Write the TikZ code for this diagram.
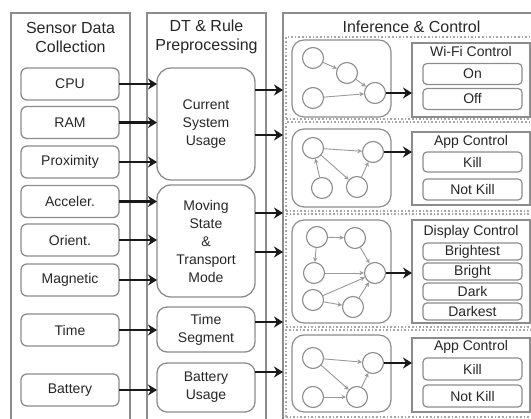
\documentclass[tikz,border=0pt]{standalone}
\usepackage{fontspec}
\setmainfont{Liberation Sans}
\usetikzlibrary{arrows.meta,positioning}

\begin{document}
\begin{tikzpicture}[x=1pt, y=-1pt, font=\fontsize{14}{18}\selectfont, text=black!85,
 col/.style={draw=black!45, line width=1.3pt, minimum width=119pt, minimum height=409pt, inner sep=0pt, outer sep=0pt},
 ttl/.style={font=\fontsize{16}{19}\selectfont, align=center},
 sens/.style={draw=black!45, line width=1.3pt, rounded corners=6pt, minimum width=98pt, minimum height=32pt, inner sep=0pt, outer sep=0pt},
 prep/.style={draw=black!45, line width=1.3pt, rounded corners=14pt, minimum width=98pt, align=center, inner sep=0pt, outer sep=0pt},
 panel/.style={draw=black!35, line width=1.6pt, dotted, minimum width=254pt, inner sep=0pt, outer sep=0pt},
 net/.style={draw=black!45, line width=1.2pt, rounded corners=12pt, minimum width=99pt, inner sep=0pt, outer sep=0pt},
 ctrl/.style={draw=black!45, line width=1.2pt, minimum width=118pt, inner sep=0pt, outer sep=0pt},
 opt/.style={draw=black!45, line width=1.2pt, rounded corners=4pt, minimum width=99pt, minimum height=21pt, inner sep=0pt, outer sep=0pt},
 st/.style={circle, draw=black!45, line width=1.1pt, minimum size=21pt, inner sep=0pt},
 flow/.style={-{Stealth[length=9pt,width=11pt]}, line width=2.4pt, black!90},
 link/.style={-{Stealth[length=4.5pt,width=4.5pt]}, line width=0.9pt, black!40}]

\useasboundingbox (0,0) rectangle (531,419);

% columns
\node[col] (sense) at (70.5,217.5) {};
\node[col] (dt) at (206.5,217.5) {};
\node[col, minimum width=257pt] (infer) at (411.5,217.5) {};
\node[ttl] (sensettl) at (70.5,37) {Sensor Data\\Collection};
\node[ttl] (dtttl) at (206.5,37) {DT \& Rule\\Preprocessing};
\node[ttl] (inferttl) at (411.5,27) {Inference \& Control};

% sensor inputs
\node[sens] (cpu) at (70,84) {CPU};
\node[sens, below=6.5pt of cpu] (ram) {RAM};
\node[sens, below=7.5pt of ram] (prox) {Proximity};
\node[sens, below=7.5pt of prox] (acc) {Acceler.};
\node[sens, below=6.5pt of acc] (ori) {Orient.};
\node[sens, below=8pt of ori] (mag) {Magnetic};
\node[sens, below=18pt of mag] (time) {Time};
\node[sens, below=28pt of time] (batt) {Battery};

% preprocessing
\node[prep, minimum height=112pt] (usage) at (206,124) {Current\\System\\Usage};
\node[prep, minimum height=112pt] (moving) at (206,241) {Moving\\State\\\&\\Transport\\Mode};
\node[prep, minimum height=45pt, rounded corners=10pt] (tseg) at (206,329.5) {Time\\Segment};
\node[prep, minimum height=49pt, rounded corners=10pt] (busage) at (206,387.5) {Battery\\Usage};

\foreach \src/\dst in {cpu/usage, ram/usage, prox/usage, acc/moving, ori/moving, mag/moving, time/tseg, batt/busage}
  \draw[flow] (\src.east) -- (\src.east -| \dst.west);
\foreach \src/\y in {usage/90, usage/135, moving/213, moving/252, tseg/322, busage/372}
  \draw[flow] (\src.east |- 0,\y) -- (infer.west |- 0,\y);

% inference panels
\node[panel, minimum height=82pt] (p1) at (413,78) {};
\node[panel, minimum height=89pt] (p2) at (413,166.5) {};
\node[panel, minimum height=113pt] (p3) at (413,270.5) {};
\node[panel, minimum height=87pt] (p4) at (413,373.5) {};

\node[net, minimum height=77pt] (n1) at (341.5,78.5) {};
\node[net, minimum height=78pt] (n2) at (341.5,168) {};
\node[net, minimum height=103pt] (n3) at (341.5,271.5) {};
\node[net, minimum height=77pt] (n4) at (341.5,373.5) {};

% control outputs
\node[ctrl, minimum height=74pt] (wifi) at (471,80) {};
\node (wifittl) at (471,52) {Wi-Fi Control};
\node[opt] (on) at (472.5,74) {On};
\node[opt, below=4pt of on] (off) {Off};

\node[ctrl, minimum height=73pt] (app) at (471,168.5) {};
\node (appttl) at (471,142) {App Control};
\node[opt, minimum height=20pt] (kill) at (472.5,162) {Kill};
\node[opt, below=7pt of kill] (notkill) {Not Kill};

\node[ctrl, minimum height=103pt] (disp) at (471,271.5) {};
\node (dispttl) at (471,232) {Display Control};
\node[opt, minimum height=17pt] (brightest) at (472.5,251.5) {Brightest};
\node[opt, minimum height=17pt, below=3pt of brightest] (bright) {Bright};
\node[opt, minimum height=17pt, below=3pt of bright] (dark) {Dark};
\node[opt, minimum height=17pt, below=3pt of dark] (darkest) {Darkest};

\node[ctrl, minimum height=74pt] (app2) at (471,375) {};
\node (app2ttl) at (471,347) {App Control};
\node[opt, minimum height=22pt] (kill2) at (472.5,369) {Kill};
\node[opt, minimum height=22pt, below=5pt of kill2] (notkill2) {Not Kill};

% networks
\node[st] (w1) at (313,58) {};
\node[st] (w2) at (347,73) {};
\node[st] (w3) at (375,93) {};
\node[st] (w4) at (313,98) {};
\draw[link] (w1) -- (w2);
\draw[link] (w2) -- (w3);
\draw[link] (w4) -- (w3);
\draw[flow] (w3) -- (w3 -| wifi.west);

\node[st] (a1) at (313,148) {};
\node[st] (a2) at (373,152) {};
\node[st] (a3) at (357,187) {};
\node[st] (a4) at (322,188) {};
\draw[link] (a1) -- (a2);
\draw[link] (a1) -- (a3);
\draw[link] (a3) -- (a2);
\draw[link] (a4) -- (a1);
\draw[flow] (a2) -- (a2 -| app.west);

\node[st] (d1) at (317,237) {};
\node[st] (d2) at (355,238) {};
\node[st] (d3) at (314,273) {};
\node[st] (d4) at (375,273) {};
\node[st] (d5) at (313,300) {};
\node[st] (d6) at (353,307) {};
\draw[link] (d1) -- (d2);
\draw[link] (d1) -- (d3);
\draw[link] (d2) -- (d4);
\draw[link] (d3) -- (d4);
\draw[link] (d5) -- (d4);
\draw[link] (d5) -- (d6);
\draw[link] (d6) -- (d4);
\draw[flow] (d4) -- (d4 -| disp.west);

\node[st] (k1) at (313,358) {};
\node[st] (k2) at (373,363) {};
\node[st] (k3) at (313,397) {};
\node[st] (k4) at (357,397) {};
\draw[link] (k1) -- (k2);
\draw[link] (k1) -- (k4);
\draw[link] (k3) -- (k4);
\draw[link] (k4) -- (k2);
\draw[flow] (k2) -- (k2 -| app2.west);
\end{tikzpicture}
\end{document}
